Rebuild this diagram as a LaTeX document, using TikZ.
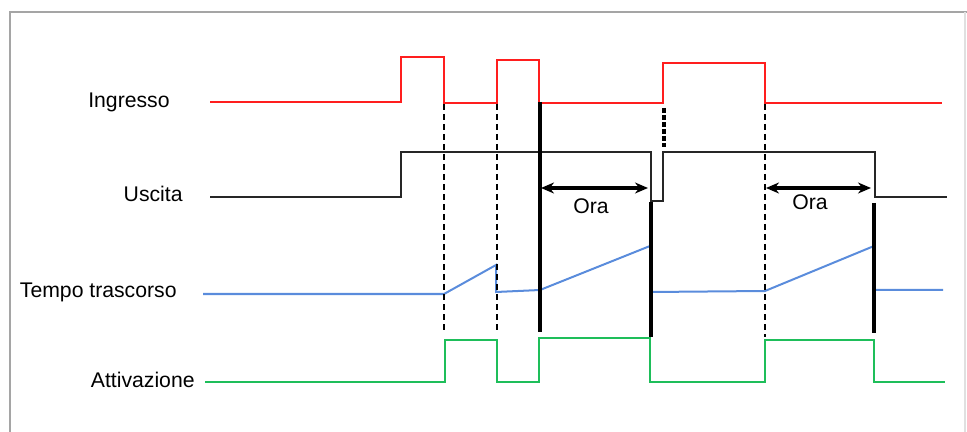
\documentclass[tikz,border=0pt]{standalone}
\usepackage{fontspec}
\setmainfont{Liberation Sans}
\usetikzlibrary{arrows.meta}
\definecolor{inred}{RGB}{255,30,30}
\definecolor{tblue}{RGB}{90,140,220}
\definecolor{agreen}{RGB}{30,190,90}
\definecolor{framegray}{RGB}{165,165,165}
\begin{document}
\begin{tikzpicture}[x=0.5pt,y=-0.5pt,
  lbl/.style={anchor=base east,inner sep=0pt,font=\fontsize{10.6}{12}\selectfont},
  oralbl/.style={anchor=base,inner sep=0pt,font=\fontsize{10.6}{12}\selectfont},
  wave/.style={line width=1pt,line join=miter},
  guide/.style={line width=0.7pt,dash pattern=on 3pt off 2pt},
  bar/.style={line width=2pt},
  dim/.style={line width=2pt,{Stealth[length=6.5pt,width=5.5pt]}-{Stealth[length=6.5pt,width=5.5pt]}}]
\useasboundingbox (0,0) rectangle (967,432);
% frame
\draw[framegray,line width=1pt] (10,440) -- (10,12) -- (967,12);
\draw[black!12,line width=0.6pt] (965,12) -- (965,440);
% labels
\node[lbl] (lin) at (170,108) {Ingresso};
\node[lbl] (lout) at (183,202) {Uscita};
\node[lbl] (ltime) at (177,298) {Tempo trascorso};
\node[lbl] (lact) at (195,387) {Attivazione};
% Ingresso
\draw[wave,inred] (210,102) -- (401,102) -- (401,57) -- (444,57) -- (444,103) -- (497,103)
  -- (497,60) -- (539,60) -- (539,103) -- (663,103) -- (663,63) -- (765,63) -- (765,103) -- (942,103);
% Uscita
\draw[wave,black!85] (210,197) -- (401,197) -- (401,152) -- (651,152) -- (651,201) -- (663,201)
  -- (663,152) -- (875,152) -- (875,197) -- (947,197);
% Tempo trascorso
\draw[wave,tblue] (203,294) -- (444,294) -- (496,265) -- (496,292) -- (540,290) -- (650,246)
  -- (650,292) -- (765,291) -- (874,246) -- (874,290) -- (943,290);
% Attivazione
\draw[wave,agreen] (205,382) -- (445,382) -- (445,340) -- (497,340) -- (497,382) -- (539,382)
  -- (539,338) -- (650,338) -- (650,382) -- (765,382) -- (765,340) -- (874,340) -- (874,382) -- (945,382);
% guides
\draw[guide] (444,104) -- (444,332);
\draw[guide] (497,104) -- (497,332);
\draw[guide] (765,104) -- (765,337);
\draw[guide,line width=1.6pt,dash pattern=on 2.5pt off 1pt] (664,108) -- (664,147);
% thick bars
\draw[bar] (540,102) -- (540,332);
\draw[bar] (651,202) -- (651,337);
\draw[bar] (874,203) -- (874,333);
% Ora dimensions
\coordinate (a1) at (541,188);
\coordinate (b1) at (648,188);
\coordinate (a2) at (766,188);
\coordinate (b2) at (871,188);
\draw[dim] (a1) -- (b1);
\draw[dim] (a2) -- (b2);
\node[oralbl] (ora1) at (591,214) {Ora};
\node[oralbl] (ora2) at (810,210) {Ora};
\end{tikzpicture}
\end{document}
